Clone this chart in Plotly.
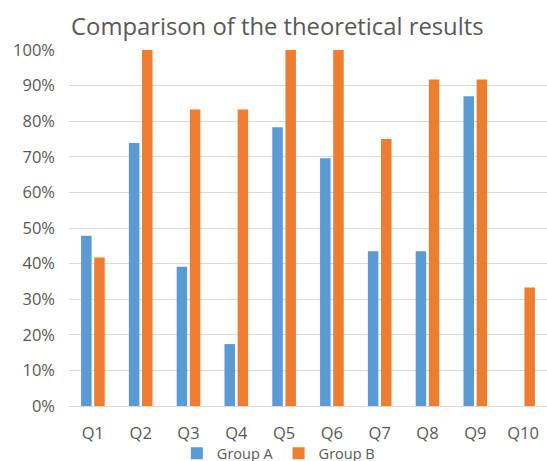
import plotly.graph_objects as go

categories = ["Q1", "Q2", "Q3", "Q4", "Q5", "Q6", "Q7", "Q8", "Q9", "Q10"]
group_a = [0.478, 0.739, 0.391, 0.174, 0.783, 0.696, 0.435, 0.435, 0.870, 0.0]
group_b = [0.417, 1.0, 0.833, 0.833, 1.0, 1.0, 0.75, 0.917, 0.917, 0.333]

fig = go.Figure()
fig.add_trace(go.Bar(x=categories, y=group_a, name="Group A", marker_color="#5B9BD5",
                     marker_line_width=0))
fig.add_trace(go.Bar(x=categories, y=group_b, name="Group B", marker_color="#ED7D31",
                     marker_line_width=0))

fig.update_layout(
    width=547, height=461,
    margin=dict(l=69, r=0, t=50, b=55, autoexpand=False),
    paper_bgcolor="white", plot_bgcolor="white",
    font=dict(family="Open Sans", color="#595959"),
    title=dict(text="Comparison of the theoretical results", x=0.13, xanchor="left",
               y=0.943, yanchor="middle", font=dict(size=23.8, color="#595959")),
    barmode="group", bargap=0.45, bargroupgap=0.2,
    showlegend=True,
    legend=dict(orientation="h", x=0.438, xanchor="center", y=-0.133, yanchor="middle",
                bgcolor="rgba(0,0,0,0)",
                font=dict(size=14.5, color="#595959"), itemwidth=30),
    xaxis=dict(showgrid=False, showline=True, linecolor="#d9d9d9", linewidth=1,
               ticks="", tickfont=dict(size=16.5, color="#595959"),
               ticklabelstandoff=12),
    yaxis=dict(range=[0, 1], dtick=0.1, tickformat=".0%", showgrid=True,
               gridcolor="#d9d9d9", gridwidth=1, zeroline=False, showline=False,
               ticks="", tickfont=dict(size=16.5, color="#595959"),
               ticklabelstandoff=13),
)

fig.write_html(
    "out.html",
    config={"displayModeBar": False},
    post_script="document.body.style.margin='0';document.documentElement.style.overflow='hidden';",
)
